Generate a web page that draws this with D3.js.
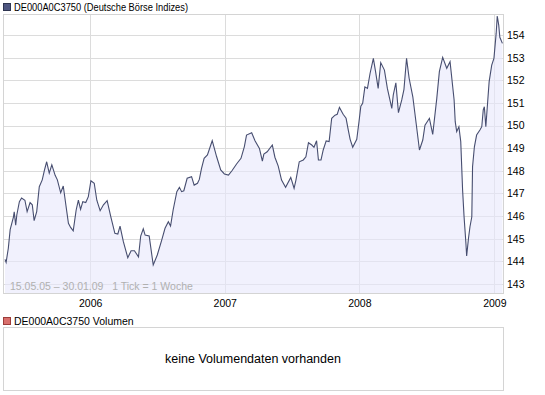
<!DOCTYPE html>
<html>
<head>
<meta charset="utf-8">
<script src="https://cdn.jsdelivr.net/npm/d3@7"></script>
<style>
  body { margin: 0; background: #fff; }
  svg text { font-family: "Liberation Sans", Arial, sans-serif; }
</style>
</head>
<body>
<div id="chart"></div>
<script>
// Index level: days since 15.05.05 and closing value
const startDate = new Date(2005, 4, 15);
const endDate = new Date(2009, 0, 30);
const dayOffsets = [
  0, 3, 9, 14, 23, 25, 29, 32, 39, 45, 54, 60, 68, 74, 79, 86, 93, 101, 107, 113,
  120, 127, 136, 142, 151, 158, 165, 172, 178, 185, 193, 199, 205, 211, 219, 226, 233, 242, 249, 258,
  267, 277, 287, 298, 306, 312, 321, 333, 342, 351, 362, 368, 375, 380, 391, 402, 413, 425, 434, 443,
  449, 456, 466, 473, 479, 485, 494, 506, 513, 522, 527, 533, 540, 549, 562, 574, 585, 595, 606, 615,
  628, 640, 649, 655, 669, 678, 690, 698, 702, 711, 725, 732, 741, 750, 761, 775, 784, 789, 798, 809,
  816, 823, 832, 838, 845, 850, 857, 863, 871, 879, 886, 895, 901, 907, 917, 925, 931, 936, 943, 954,
  960, 965, 970, 976, 983, 990, 999, 1005, 1012, 1019, 1029, 1037, 1049, 1053, 1060, 1067, 1076, 1082, 1089, 1096,
  1106, 1115, 1124, 1133, 1139, 1151, 1160, 1171, 1178, 1187, 1198, 1207, 1218, 1221, 1225, 1231, 1236, 1241, 1245, 1250,
  1252, 1257, 1261, 1266, 1268, 1273, 1279, 1288, 1293, 1297, 1300, 1304, 1309, 1313, 1320, 1326, 1332, 1335, 1339, 1342,
  1349
];
const values = [
  144.09, 143.96, 144.58, 145.4, 145.97, 146.19, 145.6, 146.05, 146.64, 146.8, 146.7, 146.2, 146.6, 146.5, 145.8, 146.2, 147.3, 147.6, 148.03, 148.4,
  147.9, 148.26, 147.8, 147.6, 147.03, 147.33, 146.5, 145.68, 145.5, 145.35, 146.27, 146.7, 146.3, 146.64, 146.6, 146.86, 147.56, 147.45, 146.7, 146.24,
  146.5, 146.68, 145.97, 145.24, 145.21, 145.56, 144.87, 144.16, 144.47, 144.47, 144.2, 145.12, 145.44, 145.16, 145.12, 143.84, 144.28, 144.94, 145.46, 145.75,
  145.56, 146.27, 147.08, 147.27, 147.08, 147.12, 147.67, 147.74, 147.37, 147.45, 147.62, 148.11, 148.55, 148.7, 149.33, 148.62, 148.04, 147.86, 147.81, 147.99,
  148.3, 148.55, 149.06, 149.58, 149.68, 149.33, 148.99, 148.43, 148.74, 148.84, 149.14, 148.6, 148.21, 147.59, 147.27, 147.71, 147.23, 147.59, 148.4, 148.48,
  148.62, 149.24, 149.14, 149.04, 149.33, 148.48, 148.48, 148.92, 149.32, 149.29, 150.32, 150.46, 150.5, 150.8, 150.5, 150.32, 149.8, 149.39, 149.04, 149.39,
  150.17, 150.86, 150.98, 151.71, 151.64, 152.3, 152.97, 152.38, 151.64, 152.78, 152.45, 151.64, 150.76, 151.35, 151.89, 150.57, 151.13, 151.6, 152.97, 152.09,
  151.27, 150.1, 148.92, 149.36, 150.02, 150.32, 149.61, 151.2, 152.38, 153.01, 152.53, 152.82, 151.13, 150.17, 149.73, 149.95, 149.29, 147.15, 145.97, 144.8,
  144.24, 145.02, 145.53, 145.97, 148.18, 149.06, 149.58, 149.8, 149.95, 150.69, 150.83, 149.95, 151.05, 151.94, 152.67, 152.97, 154.07, 154.84, 154.44, 153.9,
  153.63
];
const yTicks = [143, 144, 145, 146, 147, 148, 149, 150, 151, 152, 153, 154];
const yearTicks = [new Date(2006, 0, 1), new Date(2007, 0, 1), new Date(2008, 0, 1), new Date(2009, 0, 1)];

const data = dayOffsets.map((d, i) => ({
  date: d3.timeDay.offset(startDate, d),
  value: values[i],
}));

const width = 545;
const height = 395;
const panel = { left: 3, right: 503, top: 14, bottom: 293 };

const svg = d3
  .select("#chart")
  .append("svg")
  .attr("width", width)
  .attr("height", height);

const x = d3.scaleTime().domain([startDate, endDate]).range([5, 505]);
const y = d3.scaleLinear().domain([143, 154]).range([284, 35]);

// header legend
svg
  .append("rect")
  .attr("x", 3.5)
  .attr("y", 3.5)
  .attr("width", 7)
  .attr("height", 7)
  .attr("fill", "#4e5680")
  .attr("stroke", "#2e3550");
svg
  .append("text")
  .attr("x", 14)
  .attr("y", 11)
  .attr("font-size", "10.5px")
  .attr("fill", "#000")
  .attr("textLength", 174)
  .attr("lengthAdjust", "spacingAndGlyphs")
  .text("DE000A0C3750 (Deutsche Börse Indizes)");

svg
  .append("clipPath")
  .attr("id", "clip")
  .append("rect")
  .attr("x", panel.left)
  .attr("y", panel.top)
  .attr("width", panel.right - panel.left)
  .attr("height", panel.bottom - panel.top);

// gridlines
svg
  .append("g")
  .selectAll("line")
  .data(yTicks)
  .enter()
  .append("line")
  .attr("x1", panel.left)
  .attr("x2", panel.right)
  .attr("y1", (d) => Math.round(y(d)) + 0.5)
  .attr("y2", (d) => Math.round(y(d)) + 0.5)
  .attr("stroke", "#dcdcdc");

svg
  .append("g")
  .selectAll("line")
  .data(yearTicks)
  .enter()
  .append("line")
  .attr("x1", (d) => Math.round(x(d)) + 0.5)
  .attr("x2", (d) => Math.round(x(d)) + 0.5)
  .attr("y1", panel.top)
  .attr("y2", panel.bottom)
  .attr("stroke", "#dcdcdc");

const plot = svg.append("g").attr("clip-path", "url(#clip)");

const area = d3
  .area()
  .x((d) => x(d.date))
  .y0(panel.bottom)
  .y1((d) => y(d.value));

const line = d3
  .line()
  .x((d) => x(d.date))
  .y((d) => y(d.value));

plot
  .append("path")
  .datum(data)
  .attr("d", area)
  .attr("fill", "#e8e8fb")
  .attr("fill-opacity", 0.6);

plot
  .append("path")
  .datum(data)
  .attr("d", line)
  .attr("fill", "none")
  .attr("stroke", "#474e70")
  .attr("stroke-width", 1.1);

// panel border
svg
  .append("rect")
  .attr("x", panel.left + 0.5)
  .attr("y", panel.top + 0.5)
  .attr("width", panel.right - panel.left)
  .attr("height", panel.bottom - panel.top)
  .attr("fill", "none")
  .attr("stroke", "#d4d4d4");

// range note
svg
  .append("text")
  .attr("x", 10)
  .attr("y", 290)
  .attr("font-size", "10.5px")
  .attr("fill", "#b0b0b0")
  .attr("xml:space", "preserve")
  .text("15.05.05 \u2013 30.01.09   1 Tick = 1 Woche");

// axes
const yAxis = svg
  .append("g")
  .attr("transform", `translate(${panel.right},0)`)
  .call(d3.axisRight(y).tickValues(yTicks).tickSize(0).tickPadding(4));
yAxis.select(".domain").remove();
yAxis.selectAll("text").attr("font-size", "10.5px").attr("font-family", null).attr("fill", "#000");

const xAxis = svg
  .append("g")
  .attr("transform", `translate(0,${panel.bottom})`)
  .call(
    d3.axisBottom(x).tickValues(yearTicks).tickFormat(d3.timeFormat("%Y")).tickSize(0).tickPadding(7)
  );
xAxis.select(".domain").remove();
xAxis.selectAll("text").attr("font-size", "10.5px").attr("font-family", null).attr("fill", "#000");

// volume panel
svg
  .append("rect")
  .attr("x", 3.5)
  .attr("y", 317.5)
  .attr("width", 7)
  .attr("height", 7)
  .attr("fill", "#d96f6c")
  .attr("stroke", "#9c3c3a");
svg
  .append("text")
  .attr("x", 14)
  .attr("y", 325)
  .attr("font-size", "10.5px")
  .attr("fill", "#000")
  .text("DE000A0C3750 Volumen");

svg
  .append("rect")
  .attr("x", panel.left + 0.5)
  .attr("y", 327.5)
  .attr("width", panel.right - panel.left)
  .attr("height", 63)
  .attr("fill", "#fff")
  .attr("stroke", "#d4d4d4");

svg
  .append("text")
  .attr("x", (panel.left + panel.right) / 2)
  .attr("y", 363)
  .attr("text-anchor", "middle")
  .attr("font-size", "12.5px")
  .attr("fill", "#000")
  .text("keine Volumendaten vorhanden");
</script>
</body>
</html>
